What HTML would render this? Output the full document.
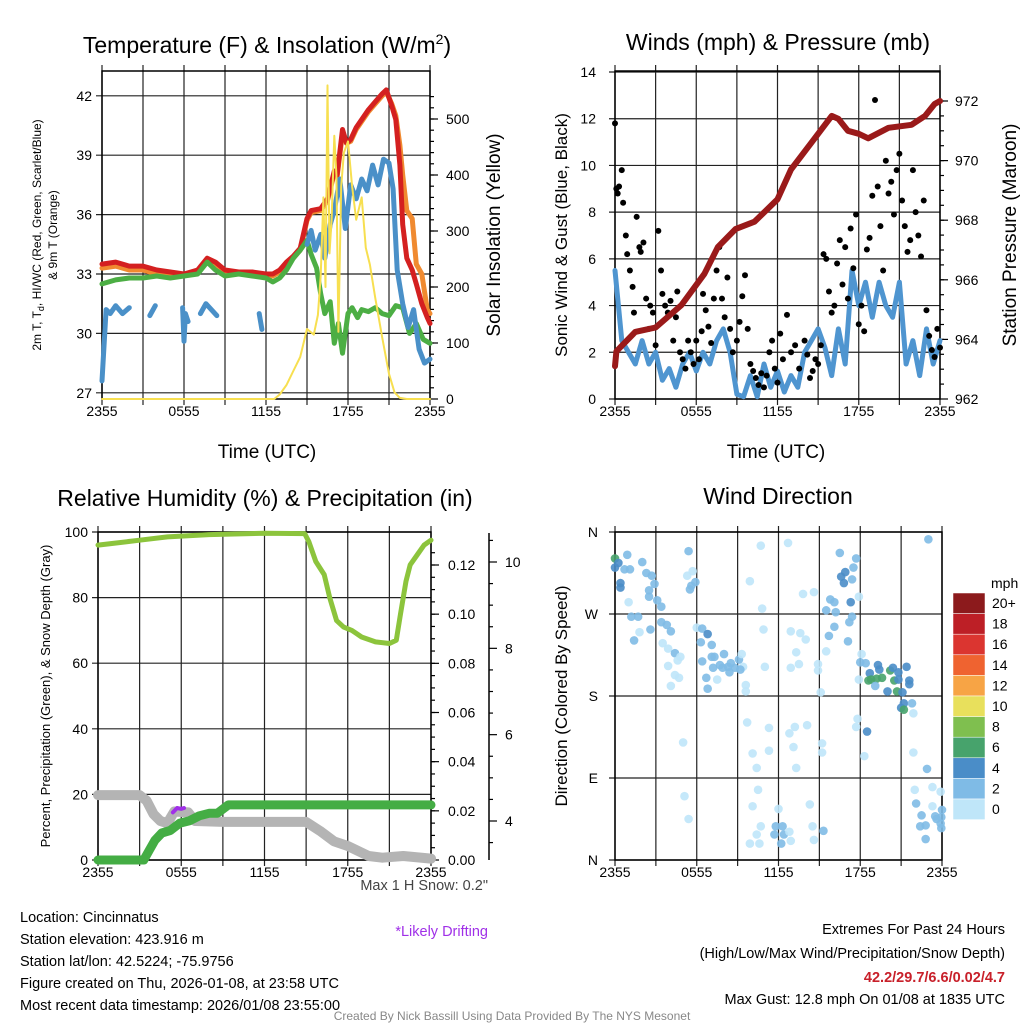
<!DOCTYPE html>
<html><head><meta charset="utf-8"><style>
body{margin:0;background:#fff}
svg{display:block;font-family:"Liberation Sans",sans-serif}
</style></head><body>
<svg id="s" width="1024" height="1024" viewBox="0 0 1024 1024">
<g font-size="23" text-anchor="middle">
<text x="267" y="53">Temperature (F) &amp; Insolation (W/m<tspan font-size="14" dy="-9">2</tspan><tspan dy="9">)</tspan></text>
<text x="778" y="50">Winds (mph) &amp; Pressure (mb)</text>
<text x="265" y="506">Relative Humidity (%) &amp; Precipitation (in)</text>
<text x="778" y="504">Wind Direction</text>
</g>
<g font-size="19" text-anchor="middle">
<text x="267" y="458">Time (UTC)</text>
<text x="776" y="458">Time (UTC)</text>
<text transform="translate(500,235) rotate(-90)">Solar Insolation (Yellow)</text>
<text transform="translate(1016,235) rotate(-90)">Station Pressure (Maroon)</text>
</g>
<g font-size="17" text-anchor="middle">
<text transform="translate(567,235) rotate(-90)">Sonic Wind &amp; Gust (Blue, Black)</text>
<text transform="translate(567,696) rotate(-90)">Direction (Colored By Speed)</text>
</g>
<g font-size="12" text-anchor="middle">
<text transform="translate(41,235) rotate(-90)">2m T, T<tspan font-size="9" dy="3">d</tspan><tspan dy="-3">, HI/WC (Red, Green, Scarlet/Blue)</tspan></text>
<text transform="translate(57,235) rotate(-90)">&amp; 9m T (Orange)</text>
<text transform="translate(50,696) rotate(-90)" font-size="13">Percent, Precipitation (Green), &amp; Snow Depth (Gray)</text>
</g>
<g font-size="14.5">
<text x="20" y="922">Location: Cincinnatus</text>
<text x="20" y="944">Station elevation: 423.916 m</text>
<text x="20" y="966">Station lat/lon: 42.5224; -75.9756</text>
<text x="20" y="988">Figure created on Thu, 2026-01-08, at 23:58 UTC</text>
<text x="20" y="1010">Most recent data timestamp: 2026/01/08 23:55:00</text>
</g>
<g font-size="14.5" text-anchor="end">
<text x="488" y="890" fill="#444">Max 1 H Snow: 0.2"</text>
<text x="488" y="936" fill="#a030e8">*Likely Drifting</text>
<text x="1005" y="934">Extremes For Past 24 Hours</text>
<text x="1005" y="958">(High/Low/Max Wind/Precipitation/Snow Depth)</text>
<text x="1005" y="982" fill="#c8202a" font-weight="bold">42.2/29.7/6.6/0.02/4.7</text>
<text x="1005" y="1004">Max Gust: 12.8 mph On 01/08 at 1835 UTC</text>
</g>
<text x="512" y="1020" font-size="12" fill="#888" text-anchor="middle">Created By Nick Bassill Using Data Provided By The NYS Mesonet</text>
</svg>
<script>
// ---- data ----
const timeTicks=["2355","0555","1155","1755","2355"];
const tempTicks=[27,30,33,36,39,42];
const solarTicks=[0,100,200,300,400,500];
const windTicks=[0,2,4,6,8,10,12,14];
const presTicks=[962,964,966,968,970,972];
const rhTicks=[0,20,40,60,80,100];
const precipTicks=["0.00","0.02","0.04","0.06","0.08","0.10","0.12"];
const snowTicks=[4,6,8,10];
const dirTicks=["N","E","S","W","N"];
const tH=[0,1,2,3,4,5,6,7,7.7,8.3,9,10,11,12,12.5,13,13.5,14,14.5,15,15.3,16,16.5,17,17.2,17.6,17.9,18.2,18.6,19,19.5,20,20.5,20.8,21.2,21.5,21.8,22,22.3,22.7,23,23.4,23.8,24];
const tempVals=[33.5,33.6,33.4,33.4,33.2,33.1,33.0,33.2,33.8,33.6,33.2,33.1,33.1,33.0,33.0,33.2,33.6,33.9,34.3,35.8,36.2,36.3,36.8,38.2,38.0,40.3,39.6,39.8,40.4,40.8,41.3,41.7,42.1,42.3,41.5,40.8,38.5,35.5,33.8,33.2,32.5,31.5,30.8,30.5];
const t9H=[0,1,2,3,4,5,6,7,7.7,8.3,9,10,11,12,12.5,13,13.5,14,14.5,15,15.3,16,16.5,17,17.2,17.6,17.9,18.2,18.6,19,19.5,20,20.5,20.8,21.2,21.5,21.8,22,22.3,22.7,23,23.4,23.8,24];
const t9Vals=[33.3,33.4,33.2,33.2,33.0,32.9,32.9,33.1,33.7,33.5,33.1,33.0,33.0,32.9,32.9,33.1,33.5,33.8,34.2,35.7,36.1,36.2,36.7,38.1,37.9,40.1,39.6,39.7,40.3,40.7,41.2,41.6,42.0,42.2,41.6,41.0,39.5,38.0,36.2,35.8,33.5,33.0,31.2,31.0];
const tdH=[0,1,2,3,4,5,6,7,7.7,8.3,9,10,11,12,12.5,13,13.5,14,14.5,15,15.3,15.7,16,16.3,16.7,17,17.3,17.6,18,18.3,18.7,19,19.5,20,20.5,21,21.5,22,22.5,23,23.5,24];
const tdVals=[32.5,32.7,32.8,32.8,32.9,32.8,32.9,33.0,33.6,33.2,32.9,33.0,32.9,32.8,32.6,32.8,33.2,33.8,34.2,34.7,34.0,33.3,32.0,31.0,31.6,29.5,30.5,29.0,31.0,31.3,30.8,31.2,31.1,31.3,31.0,30.9,31.4,31.3,30.0,30.5,29.7,29.5];
const wcH=[0,0.3,0.6,1,1.5,2,2.1,3.5,3.9,4.0,5.9,6.0,6.1,6.3,6.4,7.2,7.6,8,8.4,8.5,11.5,11.7,11.8,15,15.3,15.6,16,16.3,16.7,17,17.4,17.8,18.2,18.6,19,19.4,19.8,20.2,20.6,21,21.3,21.6,22,22.4,22.8,23.2,23.6,24];
const wcVals=[27.6,31.2,31.0,31.4,31.0,31.3,null,30.9,31.4,null,31.3,29.6,31.0,30.6,null,31.0,31.5,31.2,30.9,null,31.0,30.2,null,34.5,35.2,34.2,35.0,33.8,35.5,36.2,37.8,35.3,37.5,36.8,37.8,37.2,38.5,37.5,38.8,38.6,37.3,33.2,31.5,30.3,31.2,29.2,28.5,28.7];
const solH=[0,12.6,13,13.5,14,14.5,15,15.5,15.8,16,16.2,16.35,16.5,16.65,16.8,17,17.15,17.3,17.5,17.7,18,18.3,18.6,19,19.3,19.6,20,20.5,21,21.4,21.8,22.3,24];
const solVals=[0,0,8,25,50,75,125,115,150,220,360,200,560,260,320,470,400,120,380,440,460,380,320,360,270,240,180,110,45,12,2,0,0];
const presH=[0,0.1,1.5,3.0,4.9,6.6,7.6,8.9,10.3,12.0,13.0,14.5,16.0,16.5,17.2,18.0,18.7,20.2,21.9,22.9,23.6,24];
const presVals=[963.1,963.6,964.25,964.4,965.15,966.2,967.1,967.7,967.95,968.7,969.7,970.6,971.5,971.4,971.0,970.9,970.75,971.1,971.2,971.5,971.9,972.0];
const windVals=[5.5,2.5,2.0,1.5,2.5,1.5,2.0,0.8,1.3,0.5,1.5,2.0,1.2,2.0,1.5,2.5,3.0,2.0,0.2,0.1,1.0,0.1,1.5,0.5,1.2,0.3,1.0,0.5,2.0,2.5,3.0,2.2,1.0,3.0,1.5,5.5,4.0,5.0,3.5,5.0,4.0,3.5,5.0,1.5,2.5,1.0,3.0,1.5,2.5];
const gustH=[0,0.1,0.2,0.3,0.5,0.6,0.8,0.9,1.1,1.3,1.4,1.6,1.8,1.9,2.1,2.3,2.5,2.6,2.8,3.0,3.2,3.4,3.5,3.7,3.9,4.1,4.3,4.5,4.6,4.8,5.0,5.2,5.4,5.6,5.8,6.0,6.2,6.4,6.5,6.7,6.9,7.1,7.3,7.5,7.7,7.9,8.1,8.3,8.5,8.7,9.0,9.2,9.4,9.6,9.8,10.0,10.2,10.4,10.6,10.8,11.0,11.2,11.4,11.6,11.8,12.0,12.2,12.4,12.7,13.0,13.3,13.6,14.0,14.2,14.4,14.6,14.8,15.0,15.2,15.4,15.6,15.8,16.0,16.2,16.4,16.6,16.8,17.0,17.2,17.4,17.6,17.8,18.0,18.2,18.4,18.6,18.8,19.0,19.2,19.4,19.6,19.8,20.0,20.2,20.4,20.6,20.8,21.0,21.2,21.4,21.6,21.8,22.0,22.2,22.4,22.6,22.8,23.0,23.2,23.4,23.6,23.8,24.0];
const gustVals=[11.8,9.0,8.8,9.1,9.8,8.4,7.0,6.2,5.5,4.8,3.7,7.8,6.5,6.3,6.7,4.3,3.0,4.0,3.7,2.3,7.2,5.5,4.5,4.0,3.7,4.2,2.5,3.5,4.6,2.0,1.7,1.3,2.5,2.0,1.5,2.5,1.7,2.9,4.5,3.8,3.1,2.4,4.3,5.5,6.5,4.3,3.5,5.2,3.0,2.0,2.5,3.3,4.4,5.3,3.0,1.5,1.2,0.9,0.6,1.1,0.5,1.0,2.0,2.5,1.3,0.7,2.8,1.7,3.6,2.0,2.3,1.3,2.5,1.9,0.9,1.2,1.7,1.5,2.3,6.2,6.0,4.6,3.7,4.0,5.8,6.8,4.9,6.5,4.3,7.3,5.6,7.9,3.2,4.0,2.9,6.4,6.9,8.7,12.8,9.1,7.4,5.5,10.2,8.8,9.3,7.9,9.8,10.5,8.5,7.4,6.3,6.8,9.8,8.0,7.0,6.1,8.5,3.8,2.7,2.1,1.8,3.0,2.2];
const rhH=[0,1,3,5,8,12,14.9,15.2,15.7,16.3,16.7,17.2,17.7,18.3,19,20,21,21.5,21.8,22.2,22.5,23,23.5,24];
const rhVals=[96,96.5,97.5,98.5,99.2,99.6,99.5,97,91,87,80,73,71,70,68,66.5,66,67,75,85,90,93,96,97.5];
const precipH=[0,3.3,3.7,4.1,4.6,5.2,5.9,6.6,7.3,8.0,8.6,9.4,24];
const precipVals=[0,0,0.004,0.008,0.011,0.012,0.015,0.016,0.018,0.019,0.019,0.0224,0.0224];
const snowH=[0,3,3.5,4,4.5,5,5.5,6.5,7,9,15,16,17,18,19.5,20.5,22,24];
const snowVals=[4.6,4.6,4.47,4.16,4.0,3.95,4.22,4.2,4.0,3.98,3.98,3.77,3.53,3.42,3.19,3.15,3.19,3.13];
const driftH=[5.4,5.7,6.0,6.2];
const driftVals=[4.2,4.3,4.28,4.3];
const dirH=[0,0.25,0,0.9,0.7,0.4,0.4,1.1,1.0,1.2,1.7,1.8,1.4,2.0,2.3,2.7,2.9,2.5,2.5,3.1,3.4,2.6,3.4,3.8,3.5,4.1,3.9,4.4,4.8,4.6,3.9,4.4,4.7,4.1,5.4,5.3,5.7,5.6,5.9,5.5,5.0,5.1,5.4,6.0,6.4,6.8,6.3,7.1,6.4,7.1,7.3,7.2,7.7,6.7,6.8,7.5,8.0,8.3,8.5,8.8,9.1,9.3,9.4,9.6,9.6,8.4,7.9,9.2,9.7,10.4,10.5,10.1,10.1,10.7,9.9,10.8,10.9,11.0,11.3,11.3,10.4,10.7,9.9,10.6,12.0,11.8,11.7,12.3,12.4,12.8,12.2,12.9,12.7,13.1,13.3,12.8,13.2,12.9,13.6,14.0,13.3,13.5,12.9,13.8,14.6,14.1,14.3,14.5,14.6,15.3,15.2,15.2,14.9,14.9,15.1,15.5,15.7,15.8,16.1,15.5,16.2,16.1,16.5,16.6,16.9,16.8,17.4,17.5,17.7,17.3,17.4,17.2,17.1,17.9,17.8,17.7,18.3,18.5,18.1,18.4,18.0,17.9,18.7,19.3,19.4,18.8,18.6,19.2,19.6,20.2,20.5,20.7,20.0,19.1,20.4,20.8,21.4,20.8,21.6,21.6,21.1,21.2,21.0,21.2,21.8,21.9,21.9,22.9,22.0,23.3,23.9,22.1,22.5,22.8,23.3,23.6,24.0,23.9,23.5,23.95,23.95,22.8,22.4,23.0];
const dirVals=[331,326,321,335,319,304,299,319,283,267,267,250,241,327,315,312,303,296,289,285,278,253,261,258,238,251,232,227,223,219,213,203,200,191,339,312,317,301,305,297,129,70,45,255,254,248,239,236,218,223,223,211,214,200,188,198,226,212,216,211,220,226,212,192,185,206,211,209,151,101,77,117,59,345,306,276,253,212,145,120,28,37,18,18,56,37,28,37,28,31,18,21,348,124,101,139,146,251,249,242,228,215,211,292,294,148,61,37,22,32,128,118,215,208,184,229,246,286,283,274,272,256,337,311,316,304,308,321,331,283,267,261,240,289,155,146,114,141,226,216,217,198,205,214,209,198,197,199,200,208,197,185,185,191,211,206,212,198,197,193,184,172,167,165,172,161,118,100,77,80,75,62,49,38,59,45,55,40,48,47,35,23,37,352];
const dirSpd=[7,4,4,3,3,4,4,3,1,3,2,1,3,3,3,3,3,3,3,3,2,3,3,2,1,3,1,3,1,1,1,1,1,1,3,1,1,2,3,2,1,1,1,1,3,4,3,3,3,2,3,2,2,3,3,1,3,2,2,2,3,1,1,1,1,2,2,2,1,1,1,1,1,1,1,1,1,1,1,1,1,1,1,1,1,3,3,3,2,1,2,1,1,1,1,1,1,1,1,1,1,1,1,1,1,1,1,1,1,3,1,1,1,1,1,1,2,3,3,3,3,3,3,4,4,4,3,3,3,4,3,3,3,1,1,1,1,4,1,3,3,1,4,4,4,6,6,6,6,6,6,6,4,3,4,4,4,4,4,4,4,4,4,6,3,1,1,3,1,1,1,3,3,3,1,3,3,3,3,3,3,3,3,3,1];
const cbLabels=["20+","18","16","14","12","10","8","6","4","2","0"];
const cbColors=["#8c1a1c","#bd1f26","#db3530","#ef6330","#f7a445","#e8e05c","#7fbf4f","#47a36c","#4a8dc8","#7fbbe6","#bfe6f9"];
// ---- drawing ----
const NS="http://www.w3.org/2000/svg", S=document.getElementById('s');
function mk(tag,at,par){const e=document.createElementNS(NS,tag);for(const k in at)e.setAttribute(k,at[k]);(par||S).appendChild(e);return e;}
function scale(d0,d1,r0,r1){return v=>r0+(v-d0)*(r1-r0)/(d1-d0);}
function pathD(xs,ys,fx,fy){let d='',pen=false;for(let i=0;i<xs.length;i++){if(ys[i]===null||ys[i]===undefined){pen=false;continue;}d+=(pen?'L':'M')+fx(xs[i]).toFixed(1)+','+fy(ys[i]).toFixed(1);pen=true;}return d;}
function series(g,xs,ys,fx,fy,col,w,name){const p=mk('path',{d:pathD(xs,ys,fx,fy),fill:'none',stroke:col,'stroke-width':w,'stroke-linejoin':'round','stroke-linecap':'round'},g);

return p;}
function panel(name){const g=mk('g',{},S);


return g;}
function frame(g,x0,x1,y0,y1,fx,hgrid,fy){
 for(let h=0;h<=24;h+=3){const X=fx(h);const l=mk('line',{x1:X,x2:X,y1:y0-6,y2:y1+6,stroke:'#222','stroke-width':1.2},g);
 
 }
 hgrid.forEach(v=>{const Y=fy(v);const l=mk('line',{x1:x0-6,x2:x1,y1:Y,y2:Y,stroke:'#222','stroke-width':1.2},g);
 
 });
 const r=mk('rect',{x:x0,y:y0,width:x1-x0,height:y1-y0,fill:'none',stroke:'#000','stroke-width':1.5},g);
 
 
 timeTicks.forEach((t,i)=>{const tx=mk('text',{x:fx(i*6),y:y1+17,'font-size':14,'text-anchor':'middle'},g);tx.textContent=t;
 
 });
}
function yLabels(g,vals,fy,x,anchor,labels){vals.forEach((v,i)=>{const t=mk('text',{x:x,y:fy(v)+5,'font-size':14,'text-anchor':anchor},g);t.textContent=labels?labels[i]:v;
 
 });}
function rTicks(g,x,vals,fy,len){vals.forEach(v=>{const l=mk('line',{x1:x,x2:x+len,y1:fy(v),y2:fy(v),stroke:'#000','stroke-width':1.2},g);
 
 });}

// Panel 1
{const x0=102,x1=430,y0=71,y1=399;const fx=scale(0,24,x0,x1),fy=scale(33,36,274,214.6),fs=scale(0,500,399,119);
 const g=panel('temperature-panel');frame(g,x0,x1,y0,y1,fx,tempTicks,fy);
 yLabels(g,tempTicks,fy,92,'end');
 rTicks(g,x1,solarTicks,fs,8);
 const minor=[];for(let v=20;v<560;v+=20)minor.push(v);rTicks(g,x1,minor,fs,4);
 yLabels(g,solarTicks,fs,446,'start');
 series(g,t9H,t9Vals,fx,fy,'#f08a30',5,'temp-9m-line');
 series(g,tH,tempVals,fx,fy,'#d42020',5,'temp-2m-line');
 series(g,tdH,tdVals,fx,fy,'#4cae44',5,'dewpoint-line');
 series(g,wcH,wcVals,fx,fy,'#4a90c8',5,'windchill-line');
 series(g,solH,solVals,fx,fs,'#f7df50',2,'solar-line');}
// Panel 2
{const x0=615,x1=940,y0=71,y1=399;const fx=scale(0,24,x0,x1),fy=scale(0,14,399,72),fp=scale(962,972,399,101);
 const g=panel('wind-panel');frame(g,x0,x1,y0,y1,fx,windTicks,fy);
 yLabels(g,windTicks,fy,596,'end');
 rTicks(g,x1,presTicks,fp,8);
 const minor=[];for(let v=962.5;v<972.5;v+=0.5)minor.push(v);rTicks(g,x1,minor,fp,4);
 yLabels(g,presTicks,fp,955,'start');
 const wH=windVals.map((v,i)=>i*0.5);
 series(g,wH,windVals,fx,fy,'#4f95d0',5,'sonic-wind-line');
 gustH.forEach((h,i)=>{const c=mk('circle',{cx:fx(h),cy:fy(gustVals[i]),r:3,fill:'#000'},g);
 
 });
 series(g,presH,presVals,fx,fp,'#9a1a1a',6,'pressure-line');}
// Panel 3
{const x0=98,x1=431,y0=532,y1=860;const fx=scale(0,24,x0,x1),fy=scale(0,100,860,532),fpr=scale(0,0.12,860,565),fsn=scale(4,10,821,562);
 const g=panel('rh-panel');frame(g,x0,x1,y0,y1,fx,rhTicks,fy);
 yLabels(g,rhTicks,fy,88,'end');
 const pv=precipTicks.map(Number);rTicks(g,x1,pv,fpr,8);
 const minor=[];for(let v=0.005;v<0.13;v+=0.005)minor.push(v);rTicks(g,x1,minor,fpr,4);
 yLabels(g,pv,fpr,448,'start',precipTicks);
 const ax=mk('line',{x1:489,x2:489,y1:533,y2:860,stroke:'#000','stroke-width':1.5},g);
 
 
 rTicks(g,489,snowTicks,fsn,8);rTicks(g,489,[3.5,4.5,5,5.5,6.5,7,7.5,8.5,9,9.5,10.5],fsn,4);
 yLabels(g,snowTicks,fsn,505,'start');
 series(g,snowH,snowVals,fx,fsn,'#b4b4b4',10,'snow-depth-line');
 series(g,driftH,driftVals,fx,fsn,'#a030e8',4,'drift-line');
 series(g,precipH,precipVals,fx,fpr,'#44ad44',9,'precip-line');
 series(g,rhH,rhVals,fx,fy,'#8cc43c',5,'rh-line');}
// Panel 4
{const x0=615,x1=942,y0=532,y1=860;const fx=scale(0,24,x0,x1),fy=scale(0,360,860,532);
 const g=panel('direction-panel');frame(g,x0,x1,y0,y1,fx,[0,90,180,270,360],fy);
 yLabels(g,[0,90,180,270,360],fy,598,'end',dirTicks);
 dirH.forEach((h,i)=>{const s=dirSpd[i];const col=cbColors[10-Math.min(10,Math.floor(s/2))];
 const c=mk('circle',{cx:fx(h),cy:fy(dirVals[i]),r:4.3,fill:col,'fill-opacity':0.9},g);
 
 });
 const cb=mk('g',{},S);
 
 
 const t=mk('text',{x:991,y:588,'font-size':14},cb);t.textContent='mph';
 
 
 cbLabels.forEach((lb,i)=>{const y=593+i*20.6;const r=mk('rect',{x:953,y:y,width:32,height:20.6,fill:cbColors[i],stroke:'#fff','stroke-width':0.5},cb);
 
 
 const tx=mk('text',{x:992,y:y+15,'font-size':14},cb);tx.textContent=lb;
 
 });}
</script>
</body></html>
